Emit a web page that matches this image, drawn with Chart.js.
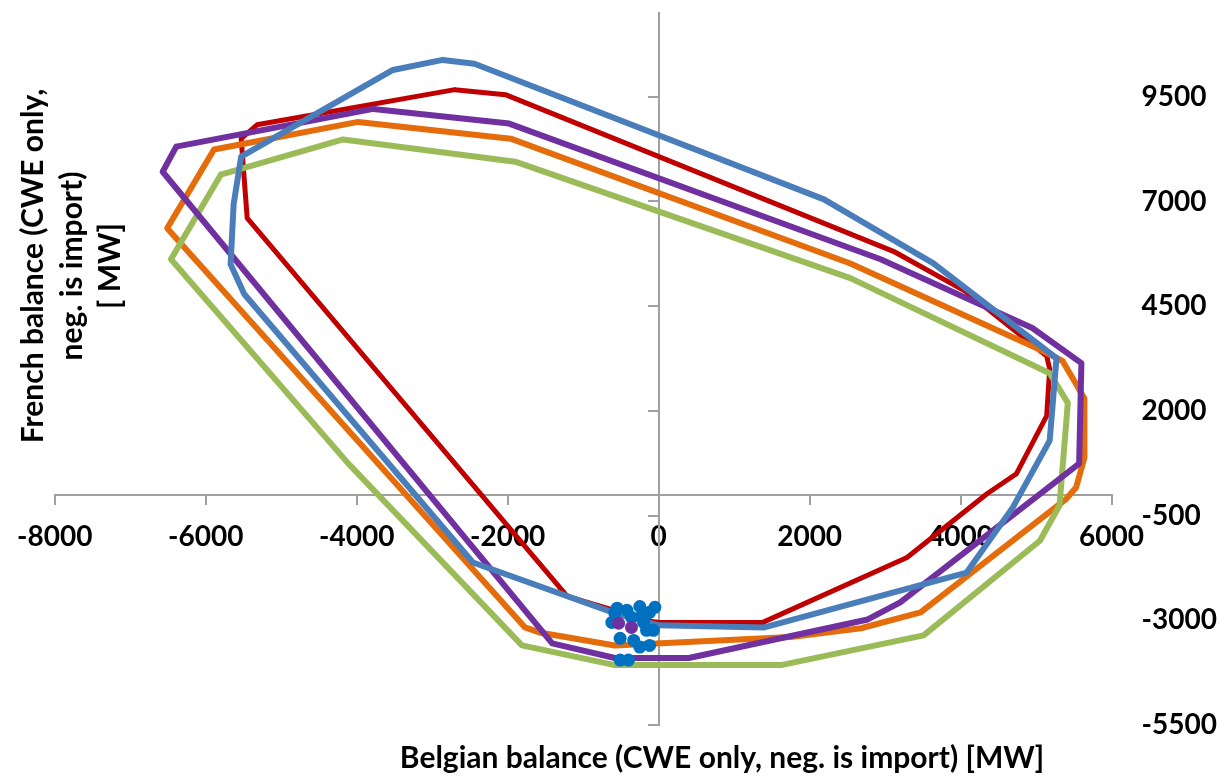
<!DOCTYPE html>
<html lang="en">
<head>
  <meta charset="UTF-8" />
  <title>CWE balance domains</title>
  <script src="https://cdn.jsdelivr.net/npm/chart.js"></script>
  <style>
    html, body { margin: 0; padding: 0; background: #fff; }
    #wrap { width: 1230px; height: 778px; }
  </style>
</head>
<body>
  <div id="wrap"><canvas id="balanceChart" width="1230" height="778"></canvas></div>

  <script>
    // Axis ticks
    const xTicks = [-8000, -6000, -4000, -2000, 0, 2000, 4000, 6000];
    const yTicks = [-5500, -3000, -500, 2000, 4500, 7000, 9500];

    const xTitle = 'Belgian balance (CWE only, neg. is import) [MW]';
    const yTitleLines = ['French balance (CWE only,', 'neg. is import)', '[ MW]'];

    // Domain outlines (Belgian balance, French balance) in MW
    const redBe = [-2700, -2030, 3110, 4060, 5140, 5180, 5140, 4740, 4350, 3290, 1380, -50, -1210, -5450, -5530, -5320];
    const redFr = [9670, 9550, 5810, 4860, 3310, 3000, 1880, 500, 20, -1500, -3050, -3050, -2430, 6600, 8500, 8830];

    const orangeBe = [-5890, -3980, -1960, 2540, 5090, 5350, 5530, 5640, 5640, 5530, 5400, 3470, 2680, 1750, -580, -1580, -1770, -6510];
    const orangeFr = [8240, 8900, 8500, 5520, 3430, 3190, 2640, 2290, 880, 170, -100, -2810, -3190, -3400, -3600, -3290, -3170, 6360];

    const greenBe = [-5800, -4180, -1900, 2540, 5180, 5420, 5310, 5050, 3510, 1620, -580, -1810, -4110, -6460];
    const greenFr = [7640, 8480, 7950, 5170, 2900, 2190, -260, -1100, -3360, -4070, -4070, -3600, 740, 5620];

    const purpleBe = [-6390, -3780, -1980, 2940, 4950, 5600, 5570, 3200, 2770, 400, -580, -1410, -6570];
    const purpleFr = [8310, 9210, 8860, 5620, 3980, 3140, 740, -2570, -2980, -3900, -3900, -3550, 7710];

    const blueBe = [-2860, -2440, 2190, 3640, 5270, 5180, 4690, 4080, 1400, 0, -580, -2460, -5490, -5670, -5630, -5530, -3520];
    const blueFr = [10380, 10290, 7050, 5520, 3260, 1290, -310, -1860, -3170, -3120, -2830, -1620, 4790, 5500, 6930, 8070, 10140];

    // Observed points
    const dotsBe = [-550, -420, -250, -50, -580, -360, -220, -120, -620, -200, -160, -70, -510, -330, -250, -120, -510, -400];
    const dotsFr = [-2710, -2760, -2670, -2690, -2830, -2930, -2880, -2810, -3050, -3050, -3240, -3240, -3430, -3480, -3640, -3600, -3950, -3950];
    const purpleDotsBe = [-530, -360];
    const purpleDotsFr = [-3070, -3170];

    function points(be, fr, closed) {
      const pts = be.map((v, i) => ({ x: v, y: fr[i] }));
      if (closed) pts.push({ x: be[0], y: fr[0] });
      return pts;
    }

    function outline(label, be, fr, color, width) {
      return {
        label: label,
        data: points(be, fr, true),
        showLine: true,
        borderColor: color,
        borderWidth: width,
        borderJoinStyle: 'round',
        borderCapStyle: 'round',
        pointRadius: 0,
        pointHoverRadius: 0,
        fill: false,
        tension: 0
      };
    }

    const axisGrey = '#A0A0A0';
    const tickFont = { family: 'Lato', size: 28, weight: 'bold' };

    // titles sit where the original put them, not centred on the plot
    const axisTitles = {
      id: 'axisTitles',
      afterDraw(chart) {
        const ctx = chart.ctx;
        ctx.save();
        ctx.fillStyle = '#000';
        ctx.font = 'bold 30px Lato';
        ctx.textAlign = 'center';
        ctx.textBaseline = 'alphabetic';
        ctx.fillText(xTitle, 722, 768);
        yTitleLines.forEach((line, i) => {
          ctx.save();
          ctx.translate(43 + i * 38.5, 266);
          ctx.rotate(-Math.PI / 2);
          ctx.fillText(line, 0, 0);
          ctx.restore();
        });
        ctx.restore();
      }
    };

    const ctx = document.getElementById('balanceChart').getContext('2d');
    new Chart(ctx, {
      type: 'scatter',
      data: {
        datasets: [
          {
            label: 'Observed (purple)',
            data: points(purpleDotsBe, purpleDotsFr, false),
            pointRadius: 6.5,
            pointBackgroundColor: '#7030A0',
            pointBorderWidth: 0,
            showLine: false
          },
          {
            label: 'Observed',
            data: points(dotsBe, dotsFr, false),
            pointRadius: 6.5,
            pointBackgroundColor: '#0070C0',
            pointBorderWidth: 0,
            showLine: false
          },
          outline('Domain 5', blueBe, blueFr, '#4A7EBB', 6),
          outline('Domain 4', purpleBe, purpleFr, '#7030A0', 6),
          outline('Domain 3', greenBe, greenFr, '#9BBB59', 6),
          outline('Domain 2', orangeBe, orangeFr, '#E46C0A', 6),
          outline('Domain 1', redBe, redFr, '#C00000', 5)
        ]
      },
      options: {
        responsive: false,
        animation: false,
        layout: { padding: { left: 50, top: 13, right: 13, bottom: 53 } },
        plugins: {
          legend: { display: false },
          tooltip: { enabled: false }
        },
        scales: {
          x: {
            type: 'linear',
            min: -8000,
            max: 6000,
            position: { y: 0 },
            afterBuildTicks: (axis) => { axis.ticks = xTicks.map(v => ({ value: v })); },
            ticks: {
              color: '#000',
              font: tickFont,
              padding: 17,
              maxRotation: 0,
              autoSkip: false,
              callback: (v) => String(v)
            },
            grid: { drawOnChartArea: false, drawTicks: true, tickLength: 9, color: axisGrey, lineWidth: 2 },
            border: { color: axisGrey, width: 2 }
          },
          y: {
            type: 'linear',
            min: -5500,
            max: 11500,
            position: { x: 0 },
            afterBuildTicks: (axis) => { axis.ticks = yTicks.map(v => ({ value: v })); },
            ticks: { display: false },
            grid: { drawOnChartArea: false, drawTicks: true, tickLength: 10, color: axisGrey, lineWidth: 2 },
            border: { color: axisGrey, width: 2 }
          },
          y2: {
            axis: 'y',
            type: 'linear',
            min: -5500,
            max: 11500,
            position: 'right',
            afterBuildTicks: (axis) => { axis.ticks = yTicks.map(v => ({ value: v })); },
            ticks: {
              color: '#000',
              font: { family: 'Lato', size: 28, weight: 'bold', lineHeight: 0.9 },
              padding: 0,
              crossAlign: 'near',
              autoSkip: false,
              callback: (v) => String(v)
            },
            grid: { display: false, drawTicks: true, tickLength: 30 },
            border: { display: false }
          }
        }
      },
      plugins: [axisTitles]
    });
  </script>
</body>
</html>
